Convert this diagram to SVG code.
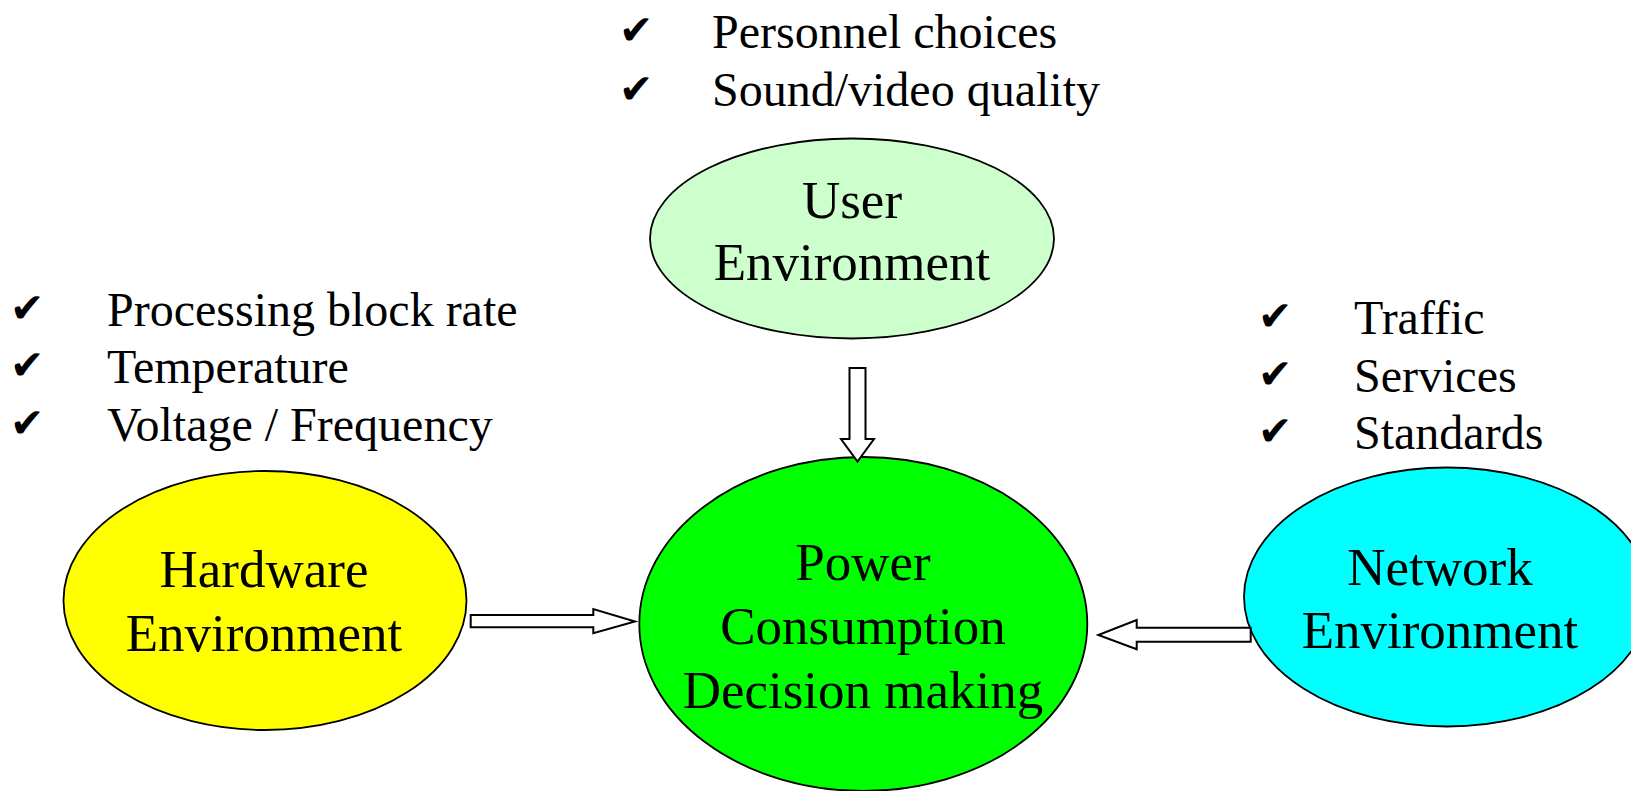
<svg xmlns="http://www.w3.org/2000/svg" width="1631" height="791" viewBox="0 0 1631 791">
<style>
.node{stroke:#000;stroke-width:1.8}
.lbl{font-family:"Liberation Serif","Times New Roman",serif;font-size:53px;fill:#000;text-anchor:middle}
.item{font-family:"Liberation Serif","Times New Roman",serif;font-size:48px;fill:#000}
.chk{font-family:"DejaVu Sans",sans-serif;font-size:41px;fill:#000}
.arrow{fill:#fff;stroke:#000;stroke-width:2;stroke-linejoin:miter}
</style>
<rect width="1631" height="791" fill="#fff"/>
<g id="user-list">
<text class="chk" x="619" y="44">✔</text>
<text class="item" x="712" y="48">Personnel choices</text>
<text class="chk" x="619" y="103">✔</text>
<text class="item" x="712" y="106">Sound/video quality</text>
</g>
<g id="hardware-list">
<text class="chk" x="10" y="322">✔</text>
<text class="item" x="107" y="326">Processing block rate</text>
<text class="chk" x="10" y="379">✔</text>
<text class="item" x="107" y="383">Temperature</text>
<text class="chk" x="10" y="437">✔</text>
<text class="item" x="107" y="441">Voltage / Frequency</text>
</g>
<g id="network-list">
<text class="chk" x="1258" y="330">✔</text>
<text class="item" x="1354" y="334">Traffic</text>
<text class="chk" x="1258" y="388">✔</text>
<text class="item" x="1354" y="392">Services</text>
<text class="chk" x="1258" y="445">✔</text>
<text class="item" x="1354" y="449">Standards</text>
</g>
<g id="user">
<ellipse class="node" cx="852" cy="238.5" rx="202" ry="100" fill="#CCFFCC"/>
<text class="lbl" x="852" y="218">User</text>
<text class="lbl" x="852" y="280">Environment</text>
</g>
<g id="hardware">
<ellipse class="node" cx="265" cy="600.5" rx="201.5" ry="129.5" fill="#FFFF00"/>
<text class="lbl" x="264" y="587">Hardware</text>
<text class="lbl" x="264" y="651">Environment</text>
</g>
<g id="power">
<ellipse class="node" cx="863.3" cy="624" rx="224" ry="167" fill="#00FF00"/>
<text class="lbl" x="863" y="580">Power</text>
<text class="lbl" x="863" y="644">Consumption</text>
<text class="lbl" x="863" y="708">Decision making</text>
</g>
<g id="network">
<ellipse class="node" cx="1447" cy="597" rx="203" ry="129.5" fill="#00FFFF"/>
<text class="lbl" x="1440" y="585">Network</text>
<text class="lbl" x="1440" y="648">Environment</text>
</g>
<g id="connectors">
<polygon class="arrow" points="849.5,368 865.5,368 865.5,439 874,439 857.5,461.5 841,439 849.5,439"/>
<polygon class="arrow" points="470.7,615 593.3,615 593.3,609 635,621.5 593.3,633.3 593.3,627.3 470.7,627.3"/>
<polygon class="arrow" points="1250.7,627.7 1136.7,627.7 1136.7,620 1098.3,635 1136.7,649.3 1136.7,641.7 1250.7,641.7"/>
</g>
</svg>
